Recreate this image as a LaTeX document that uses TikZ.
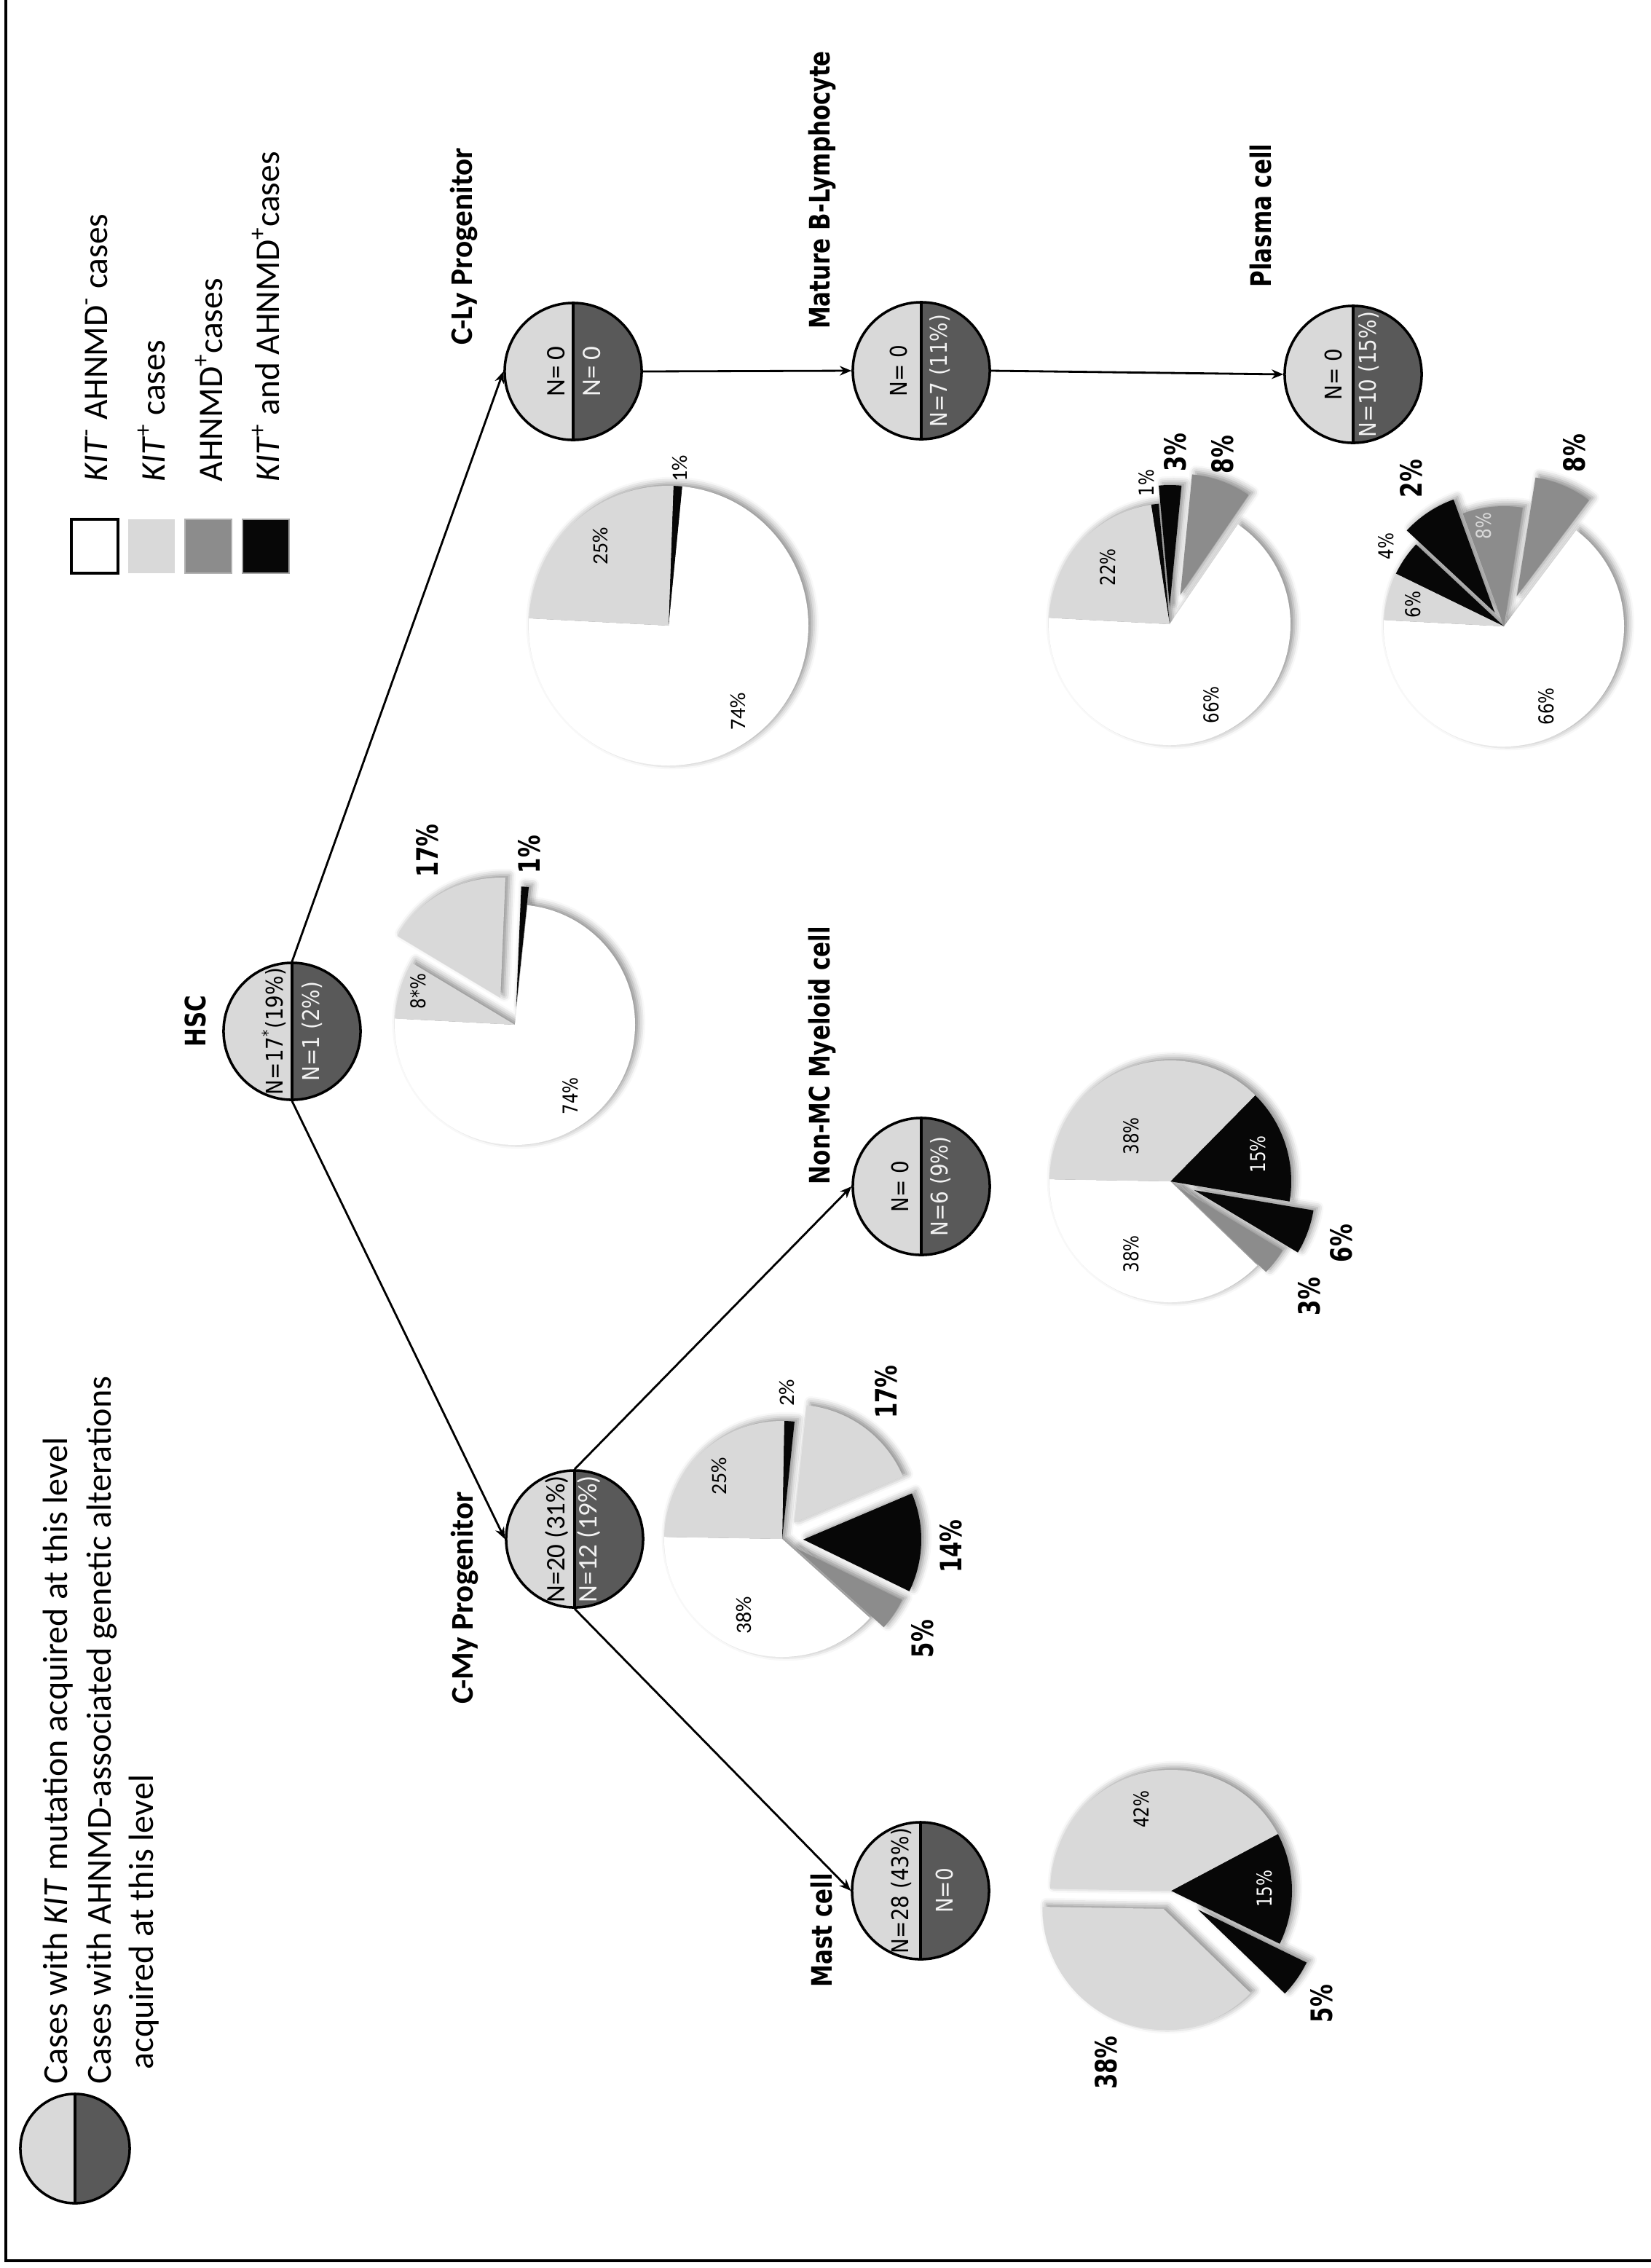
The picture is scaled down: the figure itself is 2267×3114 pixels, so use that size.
\documentclass[tikz,border=0pt]{standalone}
\usepackage{fontspec}
\setmainfont{Carlito}
\newfontfamily\dejavu{DejaVu Sans}
\usetikzlibrary{shadows.blur, arrows.meta}

\definecolor{kitgrey}{HTML}{D9D9D9}
\definecolor{ahnmdnode}{HTML}{595959}
\definecolor{ahnmdgrey}{HTML}{8C8C8C}
\definecolor{bothblack}{HTML}{070707}
\definecolor{paletext}{HTML}{F2F2F2}

% one slice: centre, start angle, end angle, radius, explode, options
\newcommand{\pieslice}[6]{%
  \path[#6] ([shift={({(#2+#3)/2}:#5)}]#1) -- +(#2:#4) arc[start angle=#2, end angle=#3, radius=#4] -- cycle;}

\begin{document}
\begin{tikzpicture}[x=0.01cm, y=0.01cm,
    rot/.style={rotate=90, inner sep=0pt},
    celltitle/.style={rot, xscale=0.8, font=\dejavu\bfseries\fontsize{11}{13}\selectfont},
    progtitle/.style={rot, font=\bfseries\fontsize{12.3}{14}\selectfont},
    cellnum/.style={rot, xscale=0.88, font=\dejavu\fontsize{9}{11}\selectfont},
    prognum/.style={rot, font=\fontsize{10.5}{12}\selectfont},
    pct/.style={rot, xscale=0.82, font=\dejavu\fontsize{8}{10}\selectfont},
    progpct/.style={rot, font=\fontsize{8.5}{10}\selectfont},
    bigpct/.style={rot, xscale=0.76, font=\dejavu\bfseries\fontsize{11.5}{13}\selectfont},
    keytext/.style={rot, anchor=west, font=\fontsize{13.5}{16}\selectfont},
    legtext/.style={rot, anchor=west, font=\fontsize{13.7}{16}\selectfont},
    cellnode/.style={circle, draw, line width=1pt, minimum size=1.88cm, inner sep=0pt,
      path picture={
        \fill[kitgrey] (path picture bounding box.south west) rectangle (path picture bounding box.north);
        \fill[ahnmdnode] (path picture bounding box.south) rectangle (path picture bounding box.north east);
        \draw[line width=1pt] (path picture bounding box.south) -- (path picture bounding box.north);}},
    swatch/.style={minimum width=0.64cm, minimum height=0.74cm, inner sep=0pt},
    link/.style={line width=0.8pt, -{Stealth[length=1.6mm, width=1.3mm]}},
    pieshade/.style={blur shadow={shadow xshift=1.5pt, shadow yshift=1pt, shadow blur radius=2.5pt, shadow opacity=45}}]
  \useasboundingbox (0,0) rectangle (2267,-3114);

  % frame
  \draw[line width=1.2pt] (8,0) -- (8,-3104) -- (2267,-3104);

  % === legend, pie colours ===
  \node[swatch, draw=black, line width=1.3pt, fill=white] (swnone) at (130,-750) {};
  \node[swatch, fill=kitgrey] (swkit) at (208,-750) {};
  \node[swatch, draw=black!30, fill=ahnmdgrey] (swahnmd) at (286,-750) {};
  \node[swatch, draw=black!35, fill=bothblack] (swboth) at (365,-750) {};
  \node[keytext] (keynone) at (132,-662) {\textit{KIT}\textsuperscript{-}\ AHNMD\textsuperscript{-} cases};
  \node[keytext] (keykit) at (208,-662) {\textit{KIT}\textsuperscript{+} cases};
  \node[keytext] (keyahnmd) at (287,-662) {AHNMD\textsuperscript{+}cases};
  \node[keytext] (keyboth) at (365,-662) {\textit{KIT}\textsuperscript{+} and AHNMD\textsuperscript{+}cases};

  % === legend, split circle ===
  \node[cellnode, minimum size=1.5cm] (legcell) at (103,-2950) {};
  \node[legtext] (legkit) at (80,-2862) {Cases with \textit{KIT} mutation acquired at this level};
  \node[legtext] (legahnmd) at (140,-2862) {Cases with AHNMD-associated genetic alterations};
  \node[legtext] (legahnmdb) at (198,-2842) {acquired at this level};

  % === cell nodes ===
  \node[cellnode] (hsc) at (401,-1416) {};
  \node[cellnode] (cly) at (787,-510) {};
  \node[cellnode] (cmy) at (789,-2113) {};
  \node[cellnode] (matb) at (1265,-509) {};
  \node[cellnode] (plas) at (1858,-514) {};
  \node[cellnode] (nmc) at (1265,-1629) {};
  \node[cellnode] (mast) at (1264,-2596) {};

  \node[cellnum] (hsca) at ([xshift=-0.25cm]hsc.center) {N=17\textsuperscript{*}(19\%)};
  \node[cellnum, text=paletext] (hscb) at ([xshift=0.28cm]hsc.center) {N=1 (2\%)};
  \node[prognum] (clya) at ([xshift=-0.23cm]cly.center) {N= 0};
  \node[prognum, text=paletext] (clyb) at ([xshift=0.26cm]cly.center) {N= 0};
  \node[prognum] (cmya) at ([xshift=-0.24cm]cmy.center) {N=20 (31\%)};
  \node[prognum, text=paletext] (cmyb) at ([xshift=0.2cm]cmy.center) {N=12 (19\%)};
  \node[cellnum] (matba) at ([xshift=-0.31cm]matb.center) {N= 0};
  \node[cellnum, text=paletext] (matbb) at ([xshift=0.26cm]matb.center) {N=7 (11\%)};
  \node[cellnum] (plasa) at ([xshift=-0.27cm]plas.center) {N= 0};
  \node[cellnum, text=paletext] (plasb) at ([xshift=0.22cm]plas.center) {N=10 (15\%)};
  \node[cellnum] (nmca) at ([xshift=-0.29cm]nmc.center) {N= 0};
  \node[cellnum, text=paletext] (nmcb) at ([xshift=0.27cm]nmc.center) {N=6 (9\%)};
  \node[cellnum] (masta) at ([xshift=-0.26cm]mast.center) {N=28 (43\%)};
  \node[cellnum, text=paletext] (mastb) at ([xshift=0.33cm]mast.center) {N=0};

  % === cell names ===
  \node[celltitle] (thsc) at (268,-1402) {HSC};
  \node[progtitle] (tcly) at (637,-338) {C-Ly Progenitor};
  \node[progtitle] (tcmy) at (638,-2194) {C-My Progenitor};
  \node[celltitle] (tmatb) at (1129,-261) {Mature B-Lymphocyte};
  \node[celltitle] (tplas) at (1731,-296) {Plasma cell};
  \node[celltitle] (tnmc) at (1129,-1449) {Non-MC Myeloid cell};
  \node[celltitle] (tmast) at (1128,-2650) {Mast cell};

  % === lineage ===
  \draw[link] (hsc.north) -- (cly.west);
  \draw[link] (hsc.south) -- (cmy.west);
  \draw[link] (cly.east) -- (matb.west);
  \draw[link] (matb.east) -- (plas.west);
  \draw[link] (cmy.north) -- (nmc.west);
  \draw[link] (cmy.south) -- (mast.west);

  % === HSC pie ===
  \coordinate (phsc) at (707,-1407);
  \pieslice{phsc}{149}{444}{165}{0}{pieshade}
  \pieslice{phsc}{87.6}{149}{165}{42}{pieshade}
  \pieslice{phsc}{84}{87.6}{165}{25}{pieshade}
  \pieslice{phsc}{-183}{84}{165}{0}{fill=white}
  \pieslice{phsc}{84}{87.6}{165}{25}{fill=bothblack}
  \pieslice{phsc}{87.6}{149}{165}{42}{fill=kitgrey}
  \pieslice{phsc}{149}{177}{165}{0}{fill=kitgrey}
  \node[pct] (hsc74) at (783,-1505) {74\%};
  \node[pct] (hsc8) at (574,-1361) {8*\%};
  \node[bigpct] (hsc17) at (587,-1168) {17\%};
  \node[bigpct] (hsc1) at (727,-1173) {1\%};

  % === C-Ly pie ===
  \coordinate (pcly) at (918,-859);
  \path[pieshade] (pcly) circle[radius=192];
  \pieslice{pcly}{-183}{84.4}{192}{0}{fill=white}
  \pieslice{pcly}{84.4}{88}{192}{0}{fill=bothblack}
  \pieslice{pcly}{88}{177}{192}{0}{fill=kitgrey}
  \node[progpct] (cly25) at (824,-750) {25\%};
  \node[progpct] (cly74) at (1013,-977) {74\%};
  \node[progpct] (cly1) at (933,-643) {1\%};

  % === Mature B pie ===
  \coordinate (pmatb) at (1606,-857);
  \pieslice{pmatb}{95.2}{415.6}{166}{0}{pieshade}
  \pieslice{pmatb}{84.4}{95.2}{166}{25}{pieshade}
  \pieslice{pmatb}{55.6}{84.4}{166}{43}{pieshade}
  \pieslice{pmatb}{-183}{55.6}{166}{0}{fill=white}
  \pieslice{pmatb}{55.6}{84.4}{166}{43}{fill=ahnmdgrey}
  \pieslice{pmatb}{84.4}{95.2}{166}{25}{fill=bothblack}
  \pieslice{pmatb}{95.2}{98.8}{166}{0}{fill=bothblack}
  \pieslice{pmatb}{98.8}{177}{166}{0}{fill=kitgrey}
  \node[pct] (matb22) at (1521,-779) {22\%};
  \node[pct] (matb66) at (1663,-968) {66\%};
  \node[pct] (matb1) at (1574,-663) {1\%};
  \node[bigpct] (matb3) at (1614,-621) {3\%};
  \node[bigpct] (matb8) at (1679,-624) {8\%};

  % === Plasma cell pie ===
  \coordinate (pplas) at (2065,-860);
  \pieslice{pplas}{137}{413}{165}{0}{pieshade}
  \pieslice{pplas}{81}{110}{165}{0}{pieshade}
  \pieslice{pplas}{110}{137}{165}{23}{pieshade}
  \pieslice{pplas}{53}{81}{165}{45}{pieshade}
  \pieslice{pplas}{-183}{53}{165}{0}{fill=white}
  \pieslice{pplas}{53}{81}{165}{45}{fill=ahnmdgrey}
  \pieslice{pplas}{81}{110}{165}{0}{fill=ahnmdgrey}
  \pieslice{pplas}{110}{137}{165}{23}{fill=bothblack}
  \pieslice{pplas}{137}{154}{165}{0}{fill=bothblack}
  \pieslice{pplas}{154}{177}{165}{0}{fill=kitgrey}
  \node[pct] (plas6) at (1940,-830) {6\%};
  \node[pct] (plas4) at (1903,-750) {4\%};
  \node[pct, text=kitgrey] (plas8a) at (2037,-722) {8\%};
  \node[pct] (plas66) at (2123,-970) {66\%};
  \node[bigpct] (plas2) at (1938,-657) {2\%};
  \node[bigpct] (plas8b) at (2162,-622) {8\%};

  % === Non-MC Myeloid pie ===
  \coordinate (pnmc) at (1607,-1622);
  \pieslice{pnmc}{-9.6}{316}{166}{0}{pieshade}
  \pieslice{pnmc}{-31}{-9.6}{166}{35}{pieshade}
  \pieslice{pnmc}{-44}{-31}{166}{15}{pieshade}
  \pieslice{pnmc}{-181}{-44}{166}{0}{fill=white}
  \pieslice{pnmc}{-44}{-31}{166}{15}{fill=ahnmdgrey}
  \pieslice{pnmc}{-31}{-9.6}{166}{35}{fill=bothblack}
  \pieslice{pnmc}{-9.6}{45.4}{166}{0}{fill=bothblack}
  \pieslice{pnmc}{45.4}{179}{166}{0}{fill=kitgrey}
  \node[pct] (nmc38a) at (1553,-1560) {38\%};
  \node[pct, text=white] (nmc15) at (1727,-1585) {15\%};
  \node[pct] (nmc38b) at (1553,-1722) {38\%};
  \node[bigpct] (nmc6) at (1842,-1707) {6\%};
  \node[bigpct] (nmc3) at (1798,-1780) {3\%};

  % === C-My pie ===
  \coordinate (pcmy) at (1074,-2113);
  \pieslice{pcmy}{84}{318}{162}{0}{pieshade}
  \pieslice{pcmy}{23}{84}{162}{28}{pieshade}
  \pieslice{pcmy}{-26}{23}{162}{29}{pieshade}
  \pieslice{pcmy}{-42}{-26}{162}{23}{pieshade}
  \pieslice{pcmy}{-181}{-42}{162}{0}{fill=white}
  \pieslice{pcmy}{-42}{-26}{162}{23}{fill=ahnmdgrey}
  \pieslice{pcmy}{-26}{23}{162}{29}{fill=bothblack}
  \pieslice{pcmy}{23}{84}{162}{28}{fill=kitgrey}
  \pieslice{pcmy}{84}{89}{162}{0}{fill=bothblack}
  \pieslice{pcmy}{89}{179}{162}{0}{fill=kitgrey}
  \node[progpct] (cmy25) at (987,-2027) {25\%};
  \node[progpct] (cmy38) at (1021,-2218) {38\%};
  \node[progpct] (cmy2) at (1080,-1912) {2\%};
  \node[bigpct] (cmy17) at (1217,-1911) {17\%};
  \node[bigpct] (cmy14) at (1306,-2123) {14\%};
  \node[bigpct] (cmy5) at (1267,-2250) {5\%};

  % === Mast cell pie ===
  \coordinate (pmast) at (1608,-2596);
  \pieslice{pmast}{-26}{179}{166}{0}{pieshade}
  \pieslice{pmast}{-181}{-44}{166}{27}{pieshade}
  \pieslice{pmast}{-44}{-26}{166}{45}{pieshade}
  \pieslice{pmast}{-181}{-44}{166}{27}{fill=kitgrey}
  \pieslice{pmast}{-44}{-26}{166}{45}{fill=bothblack}
  \pieslice{pmast}{-26}{28}{166}{0}{fill=bothblack}
  \pieslice{pmast}{28}{179}{166}{0}{fill=kitgrey}
  \node[pct] (mast42) at (1567,-2484) {42\%};
  \node[pct, text=white] (mast15) at (1736,-2593) {15\%};
  \node[bigpct] (mast5) at (1815,-2751) {5\%};
  \node[bigpct] (mast38) at (1519,-2832) {38\%};
\end{tikzpicture}
\end{document}
